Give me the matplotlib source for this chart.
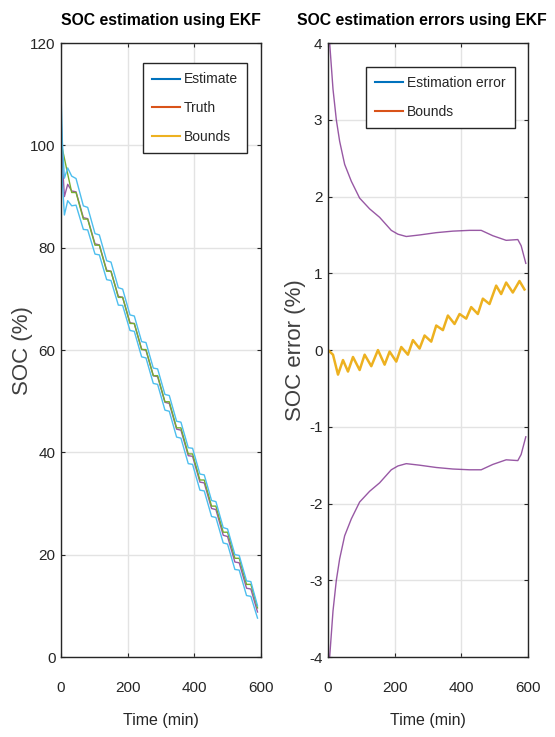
import matplotlib

matplotlib.use("Agg")

import matplotlib.pyplot as plt  # noqa: E402
import numpy as np  # noqa: E402
from matplotlib.lines import Line2D  # noqa: E402

# MATLAB default colour order
C_BLUE = "#0072BD"
C_ORANGE = "#D95319"
C_YELLOW = "#EDB120"
C_PURPLE = "#7E2F8E"
C_GREEN = "#77AC30"
C_LBLUE = "#4DBEEE"

# ---- left panel: SOC (%) at the corners of the discharge/rest staircase ----
soc_t = [0, 4, 10, 20, 32, 45, 67, 80, 102, 115, 137, 150, 172, 185, 207, 220, 242, 255,
         277, 290, 312, 325, 347, 360, 382, 395, 417, 430, 452, 465, 487, 500, 522, 535,
         557, 570, 590]
soc_truth = [100.5, 99.3, 97.5, 94.4, 90.8, 90.8, 85.6, 85.6, 80.5, 80.5, 75.4, 75.4, 70.3,
             70.3, 65.2, 65.2, 60.1, 60.1, 55.0, 55.0, 49.9, 49.9, 44.8, 44.8, 39.7, 39.7,
             34.6, 34.6, 29.5, 29.5, 24.4, 24.4, 19.3, 19.3, 14.2, 14.2, 9.6]
soc_est_offset = [5.5, -2.5, -7.5, -2.0, 0.3, 0.13, 0.28, 0.09, 0.26, 0.06, 0.21, 0.0, 0.19,
                  0.02, 0.15, -0.04, 0.06, -0.13, -0.02, -0.19, -0.11, -0.32, -0.26, -0.45,
                  -0.34, -0.47, -0.41, -0.56, -0.47, -0.67, -0.60, -0.84, -0.73, -0.88,
                  -0.75, -0.90, -0.79]
soc_halfwidth = [4.0, 3.9, 3.6, 3.2, 2.9, 2.6, 2.3, 2.2, 2.0, 1.95, 1.85, 1.8, 1.7, 1.6, 1.52,
                 1.5, 1.49, 1.5, 1.5, 1.51, 1.53, 1.54, 1.55, 1.56, 1.56, 1.57, 1.57, 1.57,
                 1.56, 1.55, 1.5, 1.48, 1.45, 1.43, 1.43, 1.44, 1.2]

# ---- right panel: estimation error and its bounds (%) ----
err_t = [0, 15, 30, 45, 60, 75, 95, 110, 130, 150, 170, 185, 205, 220, 240, 255, 275, 290,
         310, 325, 345, 360, 380, 395, 415, 430, 450, 465, 485, 505, 520, 535, 555, 575, 590]
err = [0, -0.06, -0.32, -0.13, -0.28, -0.09, -0.26, -0.06, -0.21, 0.0, -0.19, -0.02, -0.15,
       0.04, -0.06, 0.13, 0.02, 0.19, 0.11, 0.32, 0.26, 0.45, 0.34, 0.47, 0.41, 0.56, 0.47,
       0.67, 0.60, 0.84, 0.73, 0.88, 0.75, 0.90, 0.79]
bound_t = [0, 5, 15, 25, 35, 50, 70, 95, 125, 155, 190, 210, 235, 275, 325, 375, 425, 460,
           495, 535, 570, 580, 594]
bound = [4.35, 4.0, 3.4, 3.0, 2.72, 2.42, 2.2, 1.98, 1.84, 1.73, 1.56, 1.51, 1.48, 1.50,
         1.53, 1.55, 1.56, 1.56, 1.49, 1.43, 1.44, 1.36, 1.13]

plt.rcParams["font.family"] = ["Liberation Sans", "DejaVu Sans"]
plt.rcParams["axes.unicode_minus"] = False

TXT = "#262626"


def style_axes(ax):
    ax.grid(True, color="#e3e3e3", lw=1.0)
    ax.set_axisbelow(True)
    for sp in ax.spines.values():
        sp.set_color(TXT)
        sp.set_linewidth(1.0)
    ax.tick_params(direction="in", length=3, width=0.8, color=TXT,
                   right=True, top=True, labelsize=11, labelcolor=TXT)
    ax.tick_params(axis="x", pad=17)
    ax.tick_params(axis="y", pad=4)


def add_legend(ax, labels, colors, anchor):
    handles = [Line2D([], [], color=c, lw=1.5) for c in colors]
    leg = ax.legend(handles=handles, labels=labels, loc="upper right",
                    bbox_to_anchor=anchor, fontsize=10, fancybox=False,
                    framealpha=1, edgecolor=TXT, handlelength=2.0, handletextpad=0.3,
                    labelspacing=1.05, borderpad=0.65, borderaxespad=0)
    leg.get_frame().set_linewidth(1.0)
    for txt in leg.get_texts():
        txt.set_color(TXT)


fig = plt.figure(figsize=(5.55, 7.37), dpi=100)
ax1 = fig.add_axes([0.110, 0.1085, 0.360, 0.833])
ax2 = fig.add_axes([0.591, 0.1085, 0.360, 0.833])

# left: SOC estimate, truth and bounds
t = np.array(soc_t)
truth = np.array(soc_truth)
est = truth + np.array(soc_est_offset)
hw = np.array(soc_halfwidth)
ax1.plot(t, est, color=C_PURPLE, lw=1.0, alpha=0.8)
ax1.plot(t, truth, color=C_GREEN, lw=1.0)
ax1.plot(t, est + hw, color=C_LBLUE, lw=1.0)
ax1.plot(t, est - hw, color=C_LBLUE, lw=1.0)
ax1.set_xlim(0, 600)
ax1.set_ylim(0, 120)
ax1.set_xticks([0, 200, 400, 600])
ax1.set_yticks(range(0, 121, 20))
style_axes(ax1)
ax1.set_title("SOC estimation using EKF", fontsize=11.3, fontweight="bold", pad=13,
              color="black")
ax1.set_xlabel("Time (min)", fontsize=11.5, color=TXT, labelpad=13)
ax1.set_ylabel("SOC (%)", fontsize=16, color="#404040")
ax1.yaxis.set_label_coords(-0.14, 0.5)
add_legend(ax1, ["Estimate", "Truth", "Bounds"], [C_BLUE, C_ORANGE, C_YELLOW],
           (0.93, 0.967))

# right: estimation error and bounds
ax2.plot(bound_t, bound, color=C_PURPLE, lw=1.0, alpha=0.8)
ax2.plot(bound_t, [-b for b in bound], color=C_PURPLE, lw=1.0, alpha=0.8)
ax2.plot(err_t, err, color=C_YELLOW, lw=1.8)
ax2.set_xlim(0, 600)
ax2.set_ylim(-4, 4)
ax2.set_xticks([0, 200, 400, 600])
ax2.set_yticks(range(-4, 5))
style_axes(ax2)
ax2.set_title("SOC estimation errors using EKF", fontsize=11.3, fontweight="bold", pad=13,
              color="black", x=0.47)
ax2.set_xlabel("Time (min)", fontsize=11.5, color=TXT, labelpad=13)
ax2.set_ylabel("SOC error (%)", fontsize=16, color="#404040")
ax2.yaxis.set_label_coords(-0.11, 0.5)
add_legend(ax2, ["Estimation error", "Bounds"], [C_BLUE, C_ORANGE], (0.935, 0.961))

fig.savefig("out.png", dpi=100)
